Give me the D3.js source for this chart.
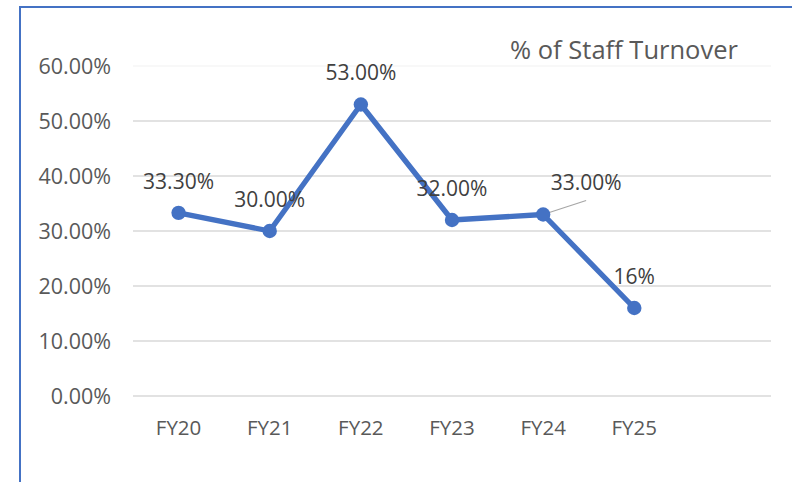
<!DOCTYPE html>
<html>
<head>
<meta charset="utf-8">
<script src="https://cdn.jsdelivr.net/npm/d3@7"></script>
<style>
  body { margin: 0; background: #fff; }
  text { font-family: "Open Sans", sans-serif; }
</style>
</head>
<body>
<svg id="chart" width="792" height="482"></svg>
<script>
// data
const years = ["FY20", "FY21", "FY22", "FY23", "FY24", "FY25"];
const turnover = [33.3, 30.0, 53.0, 32.0, 33.0, 16.0];
const labels = ["33.30%", "30.00%", "53.00%", "32.00%", "33.00%", "16%"];
const yTicks = [0, 10, 20, 30, 40, 50, 60];

let svg = d3.select("#chart"),
    width = 792,
    height = 482;

let plotLeft = 133, plotRight = 771, plotTop = 66, plotBottom = 396;

// frame (only top and left edges are visible)
svg.append("path")
    .attr("d", "M20,482V7H792")
    .attr("fill", "none")
    .attr("stroke", "#4472C4")
    .attr("stroke-width", 2);

// x: 7 slots wide, first 6 used
let x = d3.scaleBand()
    .domain(years)
    .range([plotLeft, plotLeft + (plotRight - plotLeft) * 6 / 7]);

let y = d3.scaleLinear()
    .domain([0, 60])
    .range([plotBottom, plotTop]);

// gridlines
svg.append("g")
    .selectAll("line")
    .data(yTicks)
    .enter()
    .append("line")
    .attr("x1", plotLeft)
    .attr("x2", plotRight)
    .attr("y1", d => y(d))
    .attr("y2", d => y(d))
    .attr("stroke", d => d === 60 ? "#f6f6f6" : "#d9d9d9")
    .attr("stroke-width", 1.3);

// y labels
svg.append("g")
    .selectAll("text")
    .data(yTicks)
    .enter()
    .append("text")
    .attr("x", 111)
    .attr("y", d => y(d))
    .attr("dy", "0.35em")
    .attr("text-anchor", "end")
    .attr("font-size", "21.5px")
    .attr("fill", "#595959")
    .text(d => d.toFixed(2) + "%");

// x labels
svg.append("g")
    .selectAll("text")
    .data(years)
    .enter()
    .append("text")
    .attr("x", d => x(d) + x.bandwidth() / 2)
    .attr("y", 428)
    .attr("dy", "0.35em")
    .attr("text-anchor", "middle")
    .attr("font-size", "20.5px")
    .attr("fill", "#595959")
    .text(d => d);

// title
svg.append("text")
    .attr("x", 624)
    .attr("y", 50)
    .attr("dy", "0.35em")
    .attr("text-anchor", "middle")
    .attr("font-size", "25.5px")
    .attr("fill", "#595959")
    .text("% of Staff Turnover");

let cx = i => x(years[i]) + x.bandwidth() / 2;

// line
let line = d3.line()
    .x((d, i) => cx(i))
    .y(d => y(d));

svg.append("path")
    .datum(turnover)
    .attr("d", line)
    .attr("fill", "none")
    .attr("stroke", "#4472C4")
    .attr("stroke-width", 5.3)
    .attr("stroke-linejoin", "round");

// leader line for FY24 label
svg.append("line")
    .attr("x1", cx(4))
    .attr("y1", y(turnover[4]))
    .attr("x2", cx(4) + 43)
    .attr("y2", y(turnover[4]) - 14)
    .attr("stroke", "#a6a6a6")
    .attr("stroke-width", 1.2);

// markers
svg.append("g")
    .selectAll("circle")
    .data(turnover)
    .enter()
    .append("circle")
    .attr("cx", (d, i) => cx(i))
    .attr("cy", d => y(d))
    .attr("r", 7.2)
    .attr("fill", "#4472C4");

// data labels
svg.append("g")
    .selectAll("text")
    .data(turnover)
    .enter()
    .append("text")
    .attr("x", (d, i) => cx(i) + (i === 4 ? 43 : 0))
    .attr("y", d => y(d) - 31.5)
    .attr("dy", "0.35em")
    .attr("text-anchor", "middle")
    .attr("font-size", "21px")
    .attr("fill", "#404040")
    .text((d, i) => labels[i]);
</script>
</body>
</html>
